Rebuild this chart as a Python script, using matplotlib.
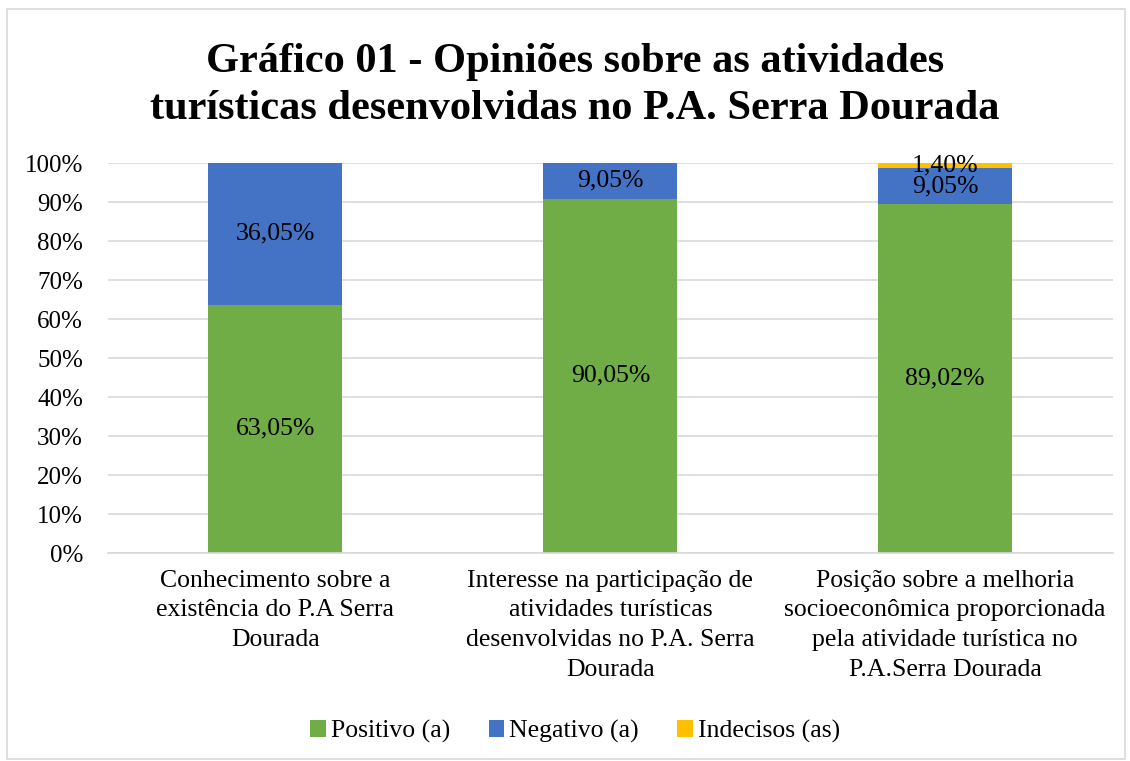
import matplotlib
import matplotlib.pyplot as plt
from matplotlib.patches import Rectangle
import numpy as np

matplotlib.use("Agg")

plt.rcParams["font.family"] = ["Liberation Serif", "DejaVu Serif"]

categories = [
    "Conhecimento sobre a\nexistência do P.A Serra\nDourada",
    "Interesse na participação de\natividades turísticas\ndesenvolvidas no P.A. Serra\nDourada",
    "Posição sobre a melhoria\nsocioeconômica proporcionada\npela atividade turística no\nP.A.Serra Dourada",
]
positivo = [63.05, 90.05, 89.02]
negativo = [36.05, 9.05, 9.05]
indecisos = [0.0, 0.0, 1.40]

series = [
    ("Positivo (a)", positivo, "#70AD47"),
    ("Negativo (a)", negativo, "#4472C4"),
    ("Indecisos (as)", indecisos, "#FFC000"),
]

# 100% stacked, like the original spreadsheet chart
totals = np.array(positivo) + np.array(negativo) + np.array(indecisos)

fig = plt.figure(figsize=(11.3, 7.61), dpi=100)
ax = fig.add_axes([0.0956, 0.2733, 0.889, 0.5125])

x = np.arange(len(categories))
bottom = np.zeros(len(categories))
for name, vals, color in series:
    vals = np.array(vals)
    share = vals / totals
    ax.bar(x, share, 0.4, bottom=bottom, color=color, label=name, zorder=2)
    for xi, b, s, v in zip(x, bottom, share, vals):
        if v > 0:
            ax.text(xi, b + s / 2, f"{v:.2f}%".replace(".", ","),
                    ha="center", va="center", fontsize=18.5, color="black", zorder=3)
    bottom += share

ticks = np.arange(0, 1.01, 0.1)
ax.set_xlim(-0.5, 2.5)
ax.set_ylim(0, 1)
ax.set_yticks(ticks)
ax.set_yticklabels([f"{int(round(t * 100))}%" for t in ticks], fontsize=18)
ax.set_xticks(x)
ax.set_xticklabels(categories, fontsize=18.5, linespacing=1.45)
ax.tick_params(axis="both", length=0)
ax.tick_params(axis="x", pad=12)
ax.tick_params(axis="y", pad=18)
ax.yaxis.grid(True, color="#D9D9D9", linewidth=1.2, zorder=0)
ax.set_axisbelow(True)
for sp in ax.spines.values():
    sp.set_visible(False)
ax.spines["bottom"].set_visible(True)
ax.spines["bottom"].set_color("#D9D9D9")
ax.spines["bottom"].set_linewidth(1.2)

fig.text(0.509, 0.888,
         "Gráfico 01 - Opiniões sobre as atividades\nturísticas desenvolvidas no P.A. Serra Dourada",
         ha="center", va="center", fontsize=30.5, fontweight="bold", linespacing=1.3)

fig.legend(loc="center", bbox_to_anchor=(0.509, 0.039), ncol=3, frameon=False,
           fontsize=18.5, handlelength=0.6, handleheight=0.6, handletextpad=0.2,
           columnspacing=1.5)

fig.patches.append(Rectangle((0.006, 0.003), 0.99, 0.985, transform=fig.transFigure,
                             fill=False, edgecolor="#D9D9D9", linewidth=1.2))

fig.savefig("out.png", dpi=100)
